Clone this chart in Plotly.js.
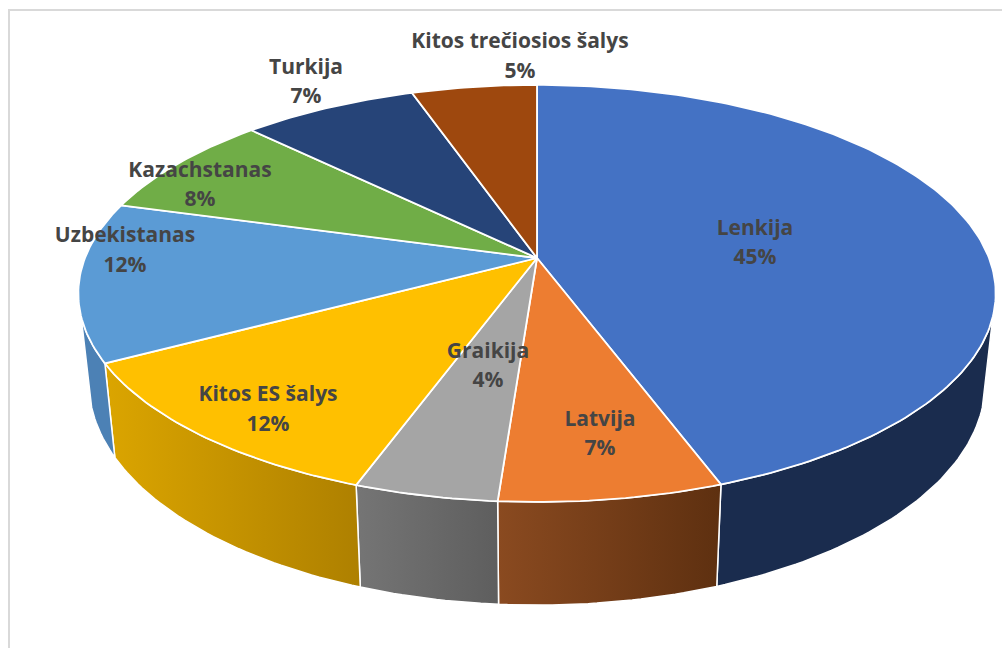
<!DOCTYPE html>
<html>
<head>
<meta charset="utf-8">
<script src="https://cdn.plot.ly/plotly-3.0.1.min.js"></script>
<style>html,body{margin:0;padding:0;background:#fff;overflow:hidden}</style>
</head>
<body>
<div id="chart" style="width:1002px;height:648px"></div>
<script>
// Data
const categories = ["Lenkija","Latvija","Graikija","Kitos ES šalys","Uzbekistanas","Kazachstanas","Turkija","Kitos trečiosios šalys"];
const shares = [44.4,6.7,4.3,11.6,12.3,8.1,7.3,5.2];
const shareLabels = ["45%","7%","4%","12%","12%","8%","7%","5%"];

// Styles
const topColors = ["#4472C4","#ED7D31","#A5A5A5","#FFC000","#5B9BD5","#70AD47","#264478","#9E480E"];
const sideFrom = ["#1A2C4E","#8A4A20","#757575","#DBA500","#4C81B5","#54823A","#1C3359","#76360B"];
const sideTo   = ["#1A2C4E","#5E3010","#5E5E5E","#AE8000","#4C81B5","#54823A","#1C3359","#76360B"];

// Label placement (pixel space of the chart)
const nameX = [755,600,488,268,125,200,306,520];
const nameY = [229.5,420.5,352.5,395.5,236.5,171.5,68.5,42.5];
const pctY  = [258.5,449.5,381.5,425.5,266.5,200.5,97.5,72.5];

// Perspective geometry of the disc
const CX=537, CY=258, B=452, A=202.5, K=0.17, SHRINK=0.977, YS=1.066, YO=70;
const VIS0=106, VIS1=254;   // angular range in which the rim wall is visible
const rad = d => d*Math.PI/180;
function topPt(deg){
  const s=Math.sin(rad(deg)), d=-Math.cos(rad(deg)), w=1-K*d;
  return [CX+B*s/w, CY+A*d/w];
}
function botPt(deg){
  const p=topPt(deg);
  return [CX+(p[0]-CX)*SHRINK, p[1]*YS+YO];
}
function arc(a0,a1,fn){
  const n=Math.max(2,Math.ceil(Math.abs(a1-a0)));
  const pts=[];
  for(let i=0;i<=n;i++) pts.push(fn(a0+(a1-a0)*i/n));
  return pts;
}
const total = shares.reduce((a,b)=>a+b,0);
let cum=0;
const spans = shares.map(v=>{const a0=cum/total*360; cum+=v; return [a0,cum/total*360];});

const sideTraces = [];
spans.forEach((sp,i)=>{
  const a0=Math.max(sp[0],VIS0), a1=Math.min(sp[1],VIS1);
  if(a1<=a0) return;
  const pts = arc(a0,a1,topPt).concat(arc(a1,a0,botPt));
  pts.push(pts[0]);
  sideTraces.push({type:'scatter',mode:'lines',x:pts.map(p=>p[0]),y:pts.map(p=>p[1]),fill:'toself',
    line:{color:'#fff',width:1.5},
    fillcolor:sideFrom[i],
    fillgradient:{type:'horizontal',colorscale:[[0,sideFrom[i]],[1,sideTo[i]]]},
    hoverinfo:'skip',showlegend:false,name:categories[i]});
});
const topTraces = spans.map((sp,i)=>{
  const pts = [[CX,CY]].concat(arc(sp[0],sp[1],topPt));
  pts.push([CX,CY]);
  return {type:'scatter',mode:'lines',x:pts.map(p=>p[0]),y:pts.map(p=>p[1]),fill:'toself',
    line:{color:'#fff',width:1.8},fillcolor:topColors[i],hoverinfo:'skip',showlegend:false,name:categories[i]};
});
const labelFont={family:'"Open Sans",sans-serif',size:21,color:'#454545',weight:700};
const labelTrace = {type:'scatter',mode:'text',
  x:nameX.concat(nameX),y:nameY.concat(pctY),text:categories.concat(shareLabels),
  textposition:'middle center',textfont:labelFont,hoverinfo:'skip',showlegend:false};

const frame = c=>({type:'line',xref:'x',yref:'y',line:{color:'#D9D9D9',width:2},...c});
Plotly.newPlot('chart',sideTraces.concat(topTraces,[labelTrace]),{
  width:1002,height:648,margin:{l:0,r:0,t:0,b:0,pad:0},
  paper_bgcolor:'#fff',plot_bgcolor:'#fff',showlegend:false,hovermode:false,
  xaxis:{visible:false,range:[0,1002],fixedrange:true},
  yaxis:{visible:false,range:[648,0],fixedrange:true},
  shapes:[frame({x0:9,x1:9,y0:10,y1:648}),frame({x0:8,x1:1002,y0:10,y1:10})]
},{staticPlot:true,displayModeBar:false});
</script>
</body>
</html>
